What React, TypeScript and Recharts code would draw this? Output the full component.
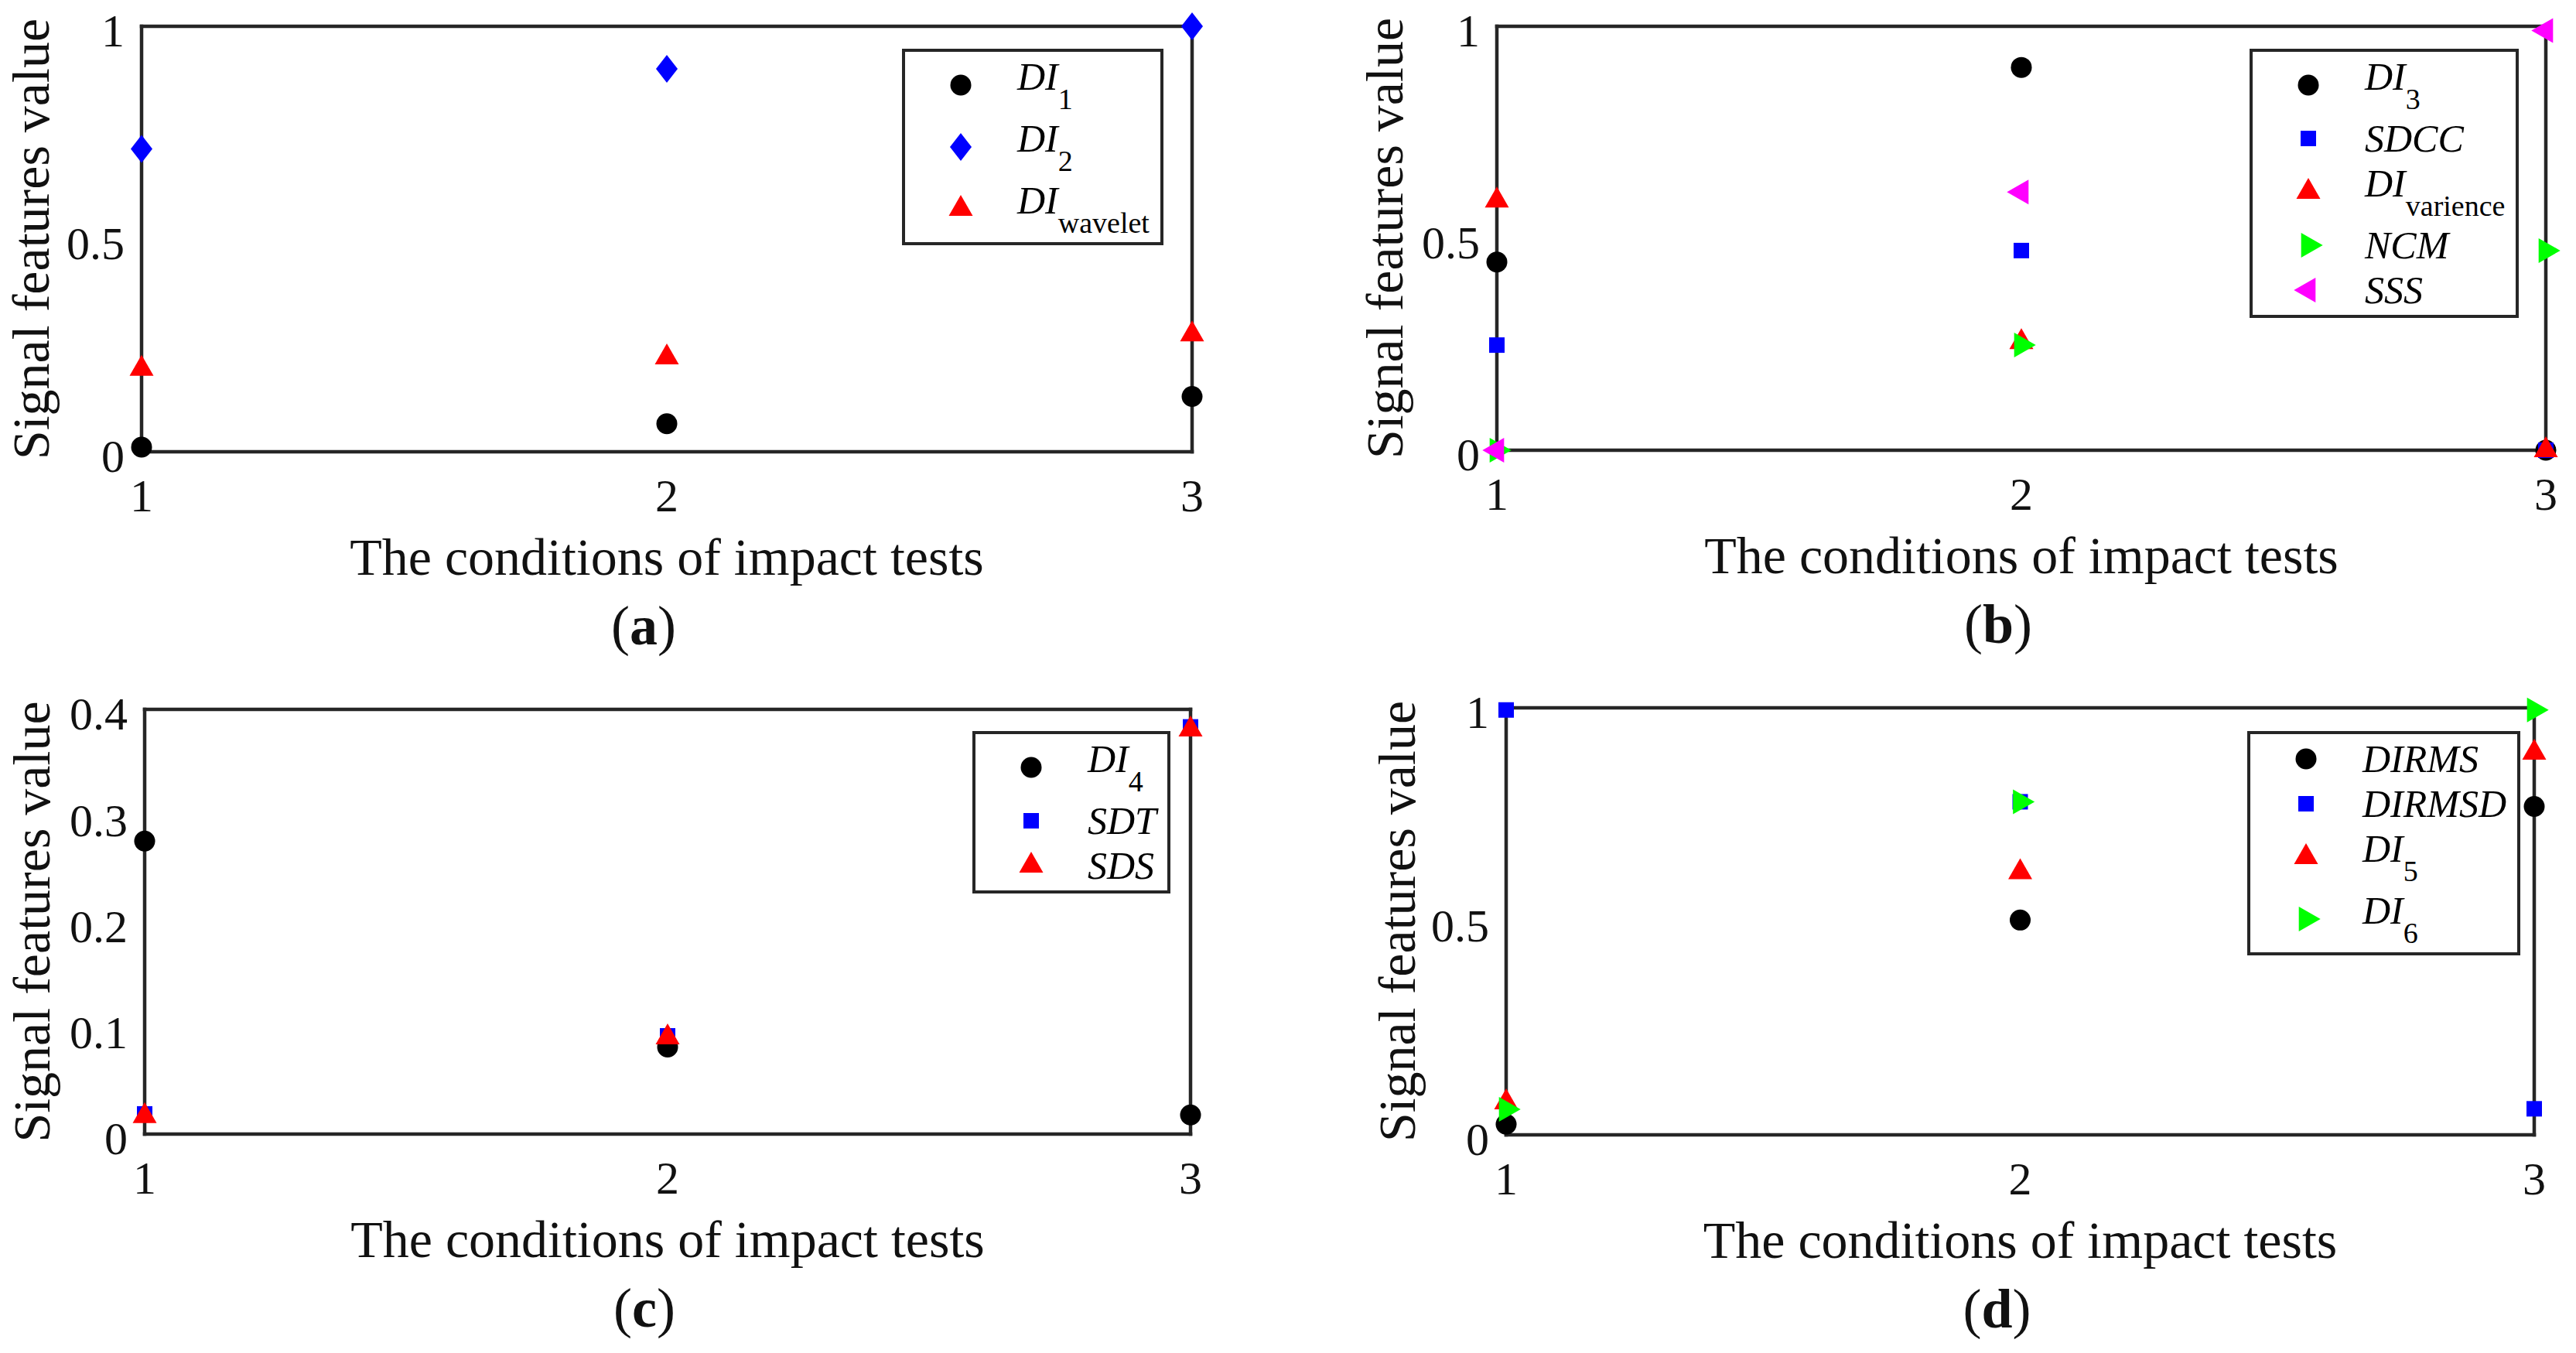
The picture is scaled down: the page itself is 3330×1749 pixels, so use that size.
import { Legend, Scatter, ScatterChart, XAxis, YAxis } from "recharts"

const conditions = [1, 2, 3]
const xTicks = [1, 2, 3]
const unitTicks = [0, 0.5, 1]
const smallTicks = [0, 0.1, 0.2, 0.3, 0.4]

// (a)
const di1 = [0.011, 0.066, 0.13]
const di2 = [0.712, 0.9, 1.0]
const diWavelet = [0.195, 0.222, 0.276]

// (b)
const di3 = [0.444, 0.903, 0.0]
const sdcc = [0.248, 0.471, 0.0]
const diVarience = [0.589, 0.255, 0.0]
const ncm = [0.0, 0.248, 0.471]
const sss = [0.0, 0.609, 0.99]

// (c)
const di4 = [0.276, 0.082, 0.018]
const sdt = [0.019, 0.0925, 0.3835]
const sds = [0.017, 0.091, 0.381]

// (d)
const dirms = [0.025, 0.503, 0.769]
const dirmsd = [0.995, 0.78, 0.061]
const di5 = [0.076, 0.615, 0.895]
const di6 = [0.06, 0.78, 0.995]

const SERIF = "Liberation Serif, Times New Roman, serif"
const AXIS = "#262626"
const INK = "#111"
const BOX = { stroke: AXIS, strokeWidth: 4.5, strokeLinecap: "square" as const }
const TICK = { stroke: AXIS, strokeWidth: 4 }

const Y_W = 220
const X_H = 300
const M_T = 60
const M_R = 40

type Kind = "circle" | "diamond" | "square" | "up" | "right" | "left"

type Series = { name: string; sub?: string; values: number[]; kind: Kind; color: string }

function Marker({ kind, color, cx, cy }: { kind: Kind; color: string; cx?: number; cy?: number }) {
  if (cx == null || cy == null) return null
  switch (kind) {
    case "circle":
      return <circle cx={cx} cy={cy} r={13.5} fill={color} />
    case "diamond":
      return <polygon points={`${cx},${cy - 18} ${cx + 14},${cy} ${cx},${cy + 18} ${cx - 14},${cy}`} fill={color} />
    case "square":
      return <rect x={cx - 10} y={cy - 10} width={20} height={20} fill={color} />
    case "up":
      return <polygon points={`${cx},${cy - 18} ${cx + 15.5},${cy + 9} ${cx - 15.5},${cy + 9}`} fill={color} />
    case "right":
      return <polygon points={`${cx + 18.7},${cy} ${cx - 9.3},${cy - 16} ${cx - 9.3},${cy + 16}`} fill={color} />
    case "left":
      return <polygon points={`${cx - 18.7},${cy} ${cx + 9.3},${cy - 16} ${cx + 9.3},${cy + 16}`} fill={color} />
  }
}

function XTick({ x, y, payload }: any) {
  return (
    <text x={x} y={y} dy="0.71em" textAnchor="middle" fontSize={60} fontFamily={SERIF} fill={INK}>
      {payload.value}
    </text>
  )
}

function YTick({ x, y, payload }: any) {
  return (
    <text x={x} y={y + 5} dy="0.355em" textAnchor="end" fontSize={60} fontFamily={SERIF} fill={INK}>
      {payload.value}
    </text>
  )
}

function LegendBox({ series }: { series: Series[] }) {
  return (
    <div
      style={{
        display: "inline-block",
        border: `4px solid ${AXIS}`,
        background: "#fff",
        padding: "3px 14px 3px 0",
        fontFamily: SERIF,
        color: "#000",
      }}
    >
      {series.map((s) => {
        const h = s.sub ? 80 : 58
        return (
          <div key={s.name + (s.sub || "")} style={{ position: "relative", height: h, whiteSpace: "nowrap" }}>
            <svg width={40} height={40} style={{ position: "absolute", left: 52, top: h / 2 - 20 }}>
              <Marker kind={s.kind} color={s.color} cx={20} cy={20} />
            </svg>
            <div style={{ marginLeft: 145, paddingTop: 4, fontSize: 50, lineHeight: "50px", fontFamily: SERIF }}>
              <span style={{ fontStyle: "italic", fontFamily: SERIF }}>{s.name}</span>
              {s.sub && (
                <span style={{ fontSize: 38, position: "relative", top: 25, fontFamily: SERIF }}>{s.sub}</span>
              )}
            </div>
          </div>
        )
      })}
    </div>
  )
}

type PanelCfg = {
  plot: { x: number; y: number; w: number; h: number }
  yMax: number
  yTicks: number[]
  titleGap: number
  caption: string
  legend: { dx: number; dy: number }
  series: Series[]
}

const panels: PanelCfg[] = [
  {
    plot: { x: 183, y: 34, w: 1358, h: 550 },
    yMax: 1,
    yTicks: unitTicks,
    titleGap: 136,
    caption: "a",
    legend: { dx: 983, dy: 29 },
    series: [
      { name: "DI", sub: "1", values: di1, kind: "circle", color: "#000000" },
      { name: "DI", sub: "2", values: di2, kind: "diamond", color: "#0000ff" },
      { name: "DI", sub: "wavelet", values: diWavelet, kind: "up", color: "#ff0000" },
    ],
  },
  {
    plot: { x: 1935, y: 34, w: 1356, h: 548 },
    yMax: 1,
    yTicks: unitTicks,
    titleGap: 138,
    caption: "b",
    legend: { dx: 973, dy: 29 },
    series: [
      { name: "DI", sub: "3", values: di3, kind: "circle", color: "#000000" },
      { name: "SDCC", values: sdcc, kind: "square", color: "#0000ff" },
      { name: "DI", sub: "varience", values: diVarience, kind: "up", color: "#ff0000" },
      { name: "NCM", values: ncm, kind: "right", color: "#00ff00" },
      { name: "SSS", values: sss, kind: "left", color: "#ff00ff" },
    ],
  },
  {
    plot: { x: 187, y: 917, w: 1352, h: 549 },
    yMax: 0.4,
    yTicks: smallTicks,
    titleGap: 139,
    caption: "c",
    legend: { dx: 1070, dy: 28 },
    series: [
      { name: "DI", sub: "4", values: di4, kind: "circle", color: "#000000" },
      { name: "SDT", values: sdt, kind: "square", color: "#0000ff" },
      { name: "SDS", values: sds, kind: "up", color: "#ff0000" },
    ],
  },
  {
    plot: { x: 1947, y: 915, w: 1329, h: 552 },
    yMax: 1,
    yTicks: unitTicks,
    titleGap: 134,
    caption: "d",
    legend: { dx: 958, dy: 30 },
    series: [
      { name: "DIRMS", values: dirms, kind: "circle", color: "#000000" },
      { name: "DIRMSD", values: dirmsd, kind: "square", color: "#0000ff" },
      { name: "DI", sub: "5", values: di5, kind: "up", color: "#ff0000" },
      { name: "DI", sub: "6", values: di6, kind: "right", color: "#00ff00" },
    ],
  },
]

function Panel({ cfg }: { cfg: PanelCfg }) {
  const { plot, yMax, yTicks, titleGap, caption, legend, series } = cfg
  const width = plot.w + Y_W + M_R
  const height = plot.h + M_T + X_H

  const xTitle = (props: any) => {
    const vb = props.viewBox
    const cx = vb.x + vb.width / 2
    return (
      <g fontFamily={SERIF} fill={INK}>
        <text x={cx} y={vb.y + 159} textAnchor="middle" fontSize={68}>
          The conditions of impact tests
        </text>
        <text x={cx - 30} y={vb.y + 249} textAnchor="middle" fontSize={72}>
          (<tspan fontWeight="bold">{caption}</tspan>)
        </text>
      </g>
    )
  }

  const yTitle = (props: any) => {
    const vb = props.viewBox
    const bx = vb.x + vb.width - titleGap + 16
    const cy = vb.y + vb.height / 2
    return (
      <text
        x={bx}
        y={cy}
        transform={`rotate(-90 ${bx} ${cy})`}
        textAnchor="middle"
        fontSize={68}
        fontFamily={SERIF}
        fill={INK}
      >
        Signal features value
      </text>
    )
  }

  return (
    <div style={{ position: "absolute", left: plot.x - Y_W, top: plot.y - M_T }}>
      <ScatterChart width={width} height={height} margin={{ top: M_T, right: M_R, bottom: 0, left: 0 }}>
        <XAxis
          xAxisId="main"
          type="number"
          dataKey="x"
          domain={[1, 3]}
          ticks={xTicks}
          interval={0}
          height={X_H}
          axisLine={BOX}
          tickLine={false}
          tickSize={0}
          tickMargin={34}
          tick={<XTick />}
          label={xTitle}
        />
        <XAxis xAxisId="bottomTicks" type="number" domain={[1, 3]} ticks={xTicks} interval={0} mirror tick={false} axisLine={false} tickLine={TICK} tickSize={16} />
        <XAxis xAxisId="top" orientation="top" type="number" domain={[1, 3]} ticks={xTicks} interval={0} mirror tick={false} axisLine={BOX} tickLine={TICK} tickSize={16} />
        <YAxis
          yAxisId="main"
          type="number"
          dataKey="y"
          domain={[0, yMax]}
          ticks={yTicks}
          interval={0}
          width={Y_W}
          axisLine={BOX}
          tickLine={false}
          tickSize={0}
          tickMargin={22}
          tick={<YTick />}
          label={yTitle}
        />
        <YAxis yAxisId="leftTicks" type="number" domain={[0, yMax]} ticks={yTicks} interval={0} mirror tick={false} axisLine={false} tickLine={TICK} tickSize={16} />
        <YAxis yAxisId="right" orientation="right" type="number" domain={[0, yMax]} ticks={yTicks} interval={0} mirror tick={false} axisLine={BOX} tickLine={TICK} tickSize={16} />
        {series.map((s) => (
          <Scatter
            key={s.name + (s.sub || "")}
            xAxisId="main"
            yAxisId="main"
            data={conditions.map((x, i) => ({ x, y: s.values[i] }))}
            fill={s.color}
            shape={(p: any) => <Marker kind={s.kind} color={s.color} cx={p.cx} cy={p.cy} />}
            isAnimationActive={false}
          />
        ))}
        <Legend
          layout="vertical"
          align="center"
          verticalAlign="middle"
          wrapperStyle={{ left: Y_W + legend.dx, top: M_T + legend.dy }}
          content={() => <LegendBox series={series} />}
        />
      </ScatterChart>
    </div>
  )
}

export default function App() {
  return (
    <div style={{ position: "absolute", left: 0, top: 0, width: 3330, height: 1749, background: "#fff", overflow: "hidden" }}>
      {panels.map((p) => (
        <Panel key={p.caption} cfg={p} />
      ))}
    </div>
  )
}
